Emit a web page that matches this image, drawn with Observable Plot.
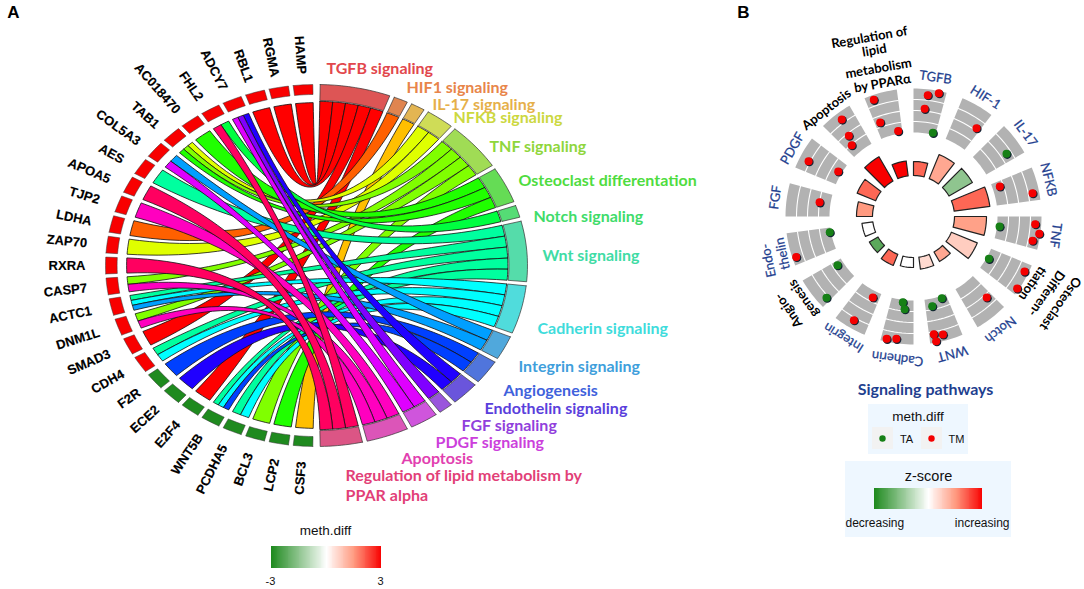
<!DOCTYPE html>
<html>
<head>
<meta charset="utf-8">
<script src="https://cdn.jsdelivr.net/npm/d3@7"></script>
<script src="https://cdn.jsdelivr.net/npm/@observablehq/plot@0.6"></script>
<style>html,body{margin:0;padding:0;background:#fff}svg{display:block}</style>
</head>
<body>
<div id="chart"></div>
<script>
// ---------- DATA: panel A ----------
const pathways = ["TGFB signaling","HIF1 signaling","IL-17 signaling","NFKB signaling","TNF signaling","Osteoclast differentation","Notch signaling","Wnt signaling","Cadherin signaling","Integrin signaling","Angiogenesis","Endothelin signaling","FGF signaling","PDGF signaling","Apoptosis","Regulation of lipid metabolism by PPAR alpha"];
const pathwayColors = ["#ff0000","#ff6000","#ffbf00","#dfff00","#80ff00","#20ff00","#00ff40","#00ff9f","#00ffff","#009fff","#0040ff","#2000ff","#8000ff","#df00ff","#ff00bf","#ff0060"];
const ringColors = ["#dd5555","#e08550","#e3b552","#cfdc57","#a0dc55","#65dc55","#55dc75","#55dcaa","#50dcdc","#50a8dc","#5075dc","#6a55dc","#9a55dc","#cf55dc","#dc55b8","#dc5585"];
const labelColors = ["#e2474d","#e8854a","#e6b04a","#ccd83f","#8fd63c","#4fdc3f","#3fdc6a","#3fdca5","#3fdcdc","#3f9fdc","#3f62dc","#5a3fdc","#913fdc","#cc3fdc","#e23fb0","#e23f78"];
const genes = ["HAMP","RGMA","RBL1","ADCY7","FHL2","AC018470","TAB1","COL5A3","AES","APOA5","TJP2","LDHA","ZAP70","RXRA","CASP7","ACTC1","DNM1L","SMAD3","CDH4","F2R","ECE2","E2F4","WNT5B","PCDHA5","BCL3","LCP2","CSF3"];
const methDiff = [3,3,3,3,3,3,3,3,3,3,3,3,3,3,3,3,3,3,3,-3,-3,-3,-3,-3,-3,-3,-3];
// pathways of each gene, by index into `pathways`, in order away from the top of the circle
const genePathways = [[0],[0],[0],[11,12,13],[6,15],[5],[3,4,5],[9,13],[7],[15],[14],[1],[3],[15],[4,14],[7,8,9],[4,14],[0],[7,8],[10],[11],[0],[7,8,10],[7,8],[4],[5],[2]];

// ---------- DATA: panel B ----------
const shortNames = ["TGFB","HIF-1","IL-17","NFKB","TNF","Osteoclast","Notch","WNT","Cadherin","Integrin","Angiogenesis","Endothelin","FGF","PDGF","Apoptosis","Regulation"];
const zScores = [2,1.3,-1.5,2,1.4,0.75,1.3,0.55,0,2,-2.2,0,1.5,2,3,3];
const barLengths = [14,26,27,36,32,28,11,12,10,12,10,11,16,20,28,15];
const dotPathway = [0,0,0,0,1,2,3,3,4,4,4,4,5,5,5,6,7,7,7,7,7,8,8,8,8,9,9,10,10,11,11,12,13,13,14,14,14,15,15,15];
const dotAngle = [11.6,6.7,5.9,13,13,11,3.3,11.4,6.6,3.6,7.8,11.5,6.8,3.9,12.3,2.9,3.4,10.7,8.5,12.7,12.2,7.1,5.5,8,12.4,4.2,7.4,12.4,2,11.9,3.5,8.6,8.4,5.3,4.1,6.3,8.5,12.3,3,3.7];
const dotLevel = [3.8,3.47,2.2,0.17,2.23,2.56,0.67,3.39,0.24,3.45,3.9,3.41,0.22,3.63,3.84,2.29,0.23,0.69,3.42,3.22,3.88,0.22,0.83,3.59,3.75,0.6,3.24,0.57,3.18,0.11,3.64,1,0.34,3.15,0.94,1.77,3.33,0.25,1.43,3.57];
const dotGroup = ["TM","TM","TM","TA","TM","TA","TM","TM","TA","TM","TM","TM","TA","TM","TM","TM","TA","TA","TM","TM","TM","TA","TA","TM","TM","TM","TM","TA","TA","TA","TM","TM","TM","TM","TM","TM","TM","TM","TM","TM"];
const groupColors = {TA:"#168016",TM:"#f40000"};

// ---------- LAYOUT ----------
const A = {cx:316, cy:265, rx:211, ry:181};
const B = {cx:913, cy:216, bar0:41, trackIn:84, trackStep:11, span:15, step:22.5};
const rad = d => d*Math.PI/180;
const pa = (t,r) => [A.cx+A.rx*r*Math.sin(rad(t)), A.cy-A.ry*r*Math.cos(rad(t))];
const pb = (t,r) => [B.cx+r*Math.sin(rad(t)), B.cy-r*Math.cos(rad(t))];

// pathway arcs from the number of genes on each
const nLinks = pathways.map((_,i)=>genePathways.flat().filter(p=>p===i).length);
const total = d3.sum(nLinks);
const gapP = 1.3, gapG = 1.3;
const unit = (178-gapP*(pathways.length-1))/total;
const pathArcs = []; { let t=1; nLinks.forEach((n,i)=>{pathArcs.push({i,t0:t,t1:t+n*unit}); t+=n*unit+gapP;}); }
const gw = (178-gapG*(genes.length-1))/genes.length;
const geneArcs = genes.map((g,i)=>{const t1=359-i*(gw+gapG); return {i,g,t0:t1-gw,t1};});

const arcPoly = (proj,t0,t1,r0,r1,n=10)=>{
  const f=d3.range(n+1).map(k=>t0+(t1-t0)*k/n);
  return [...f.map(t=>proj(t,r1)),...f.reverse().map(t=>proj(t,r0)),proj(t0,r1)];
};
const toRows=(pts,id,extra)=>pts.map(([x,y])=>({x,y,id,...extra}));

// ribbons
const links=[];
const used=pathways.map(()=>0);
genePathways.forEach((ps,gi)=>{
  const a=geneArcs[gi], w=(a.t1-a.t0)/ps.length;
  ps.forEach((p,k)=>{
    const g1=a.t1-k*w, g0=g1-w;
    const b0=pathArcs[p].t0+used[p]*unit, b1=b0+unit; used[p]++;
    links.push({p,g0,g1,b0,b1,id:`l${gi}-${p}`});
  });
});
links.sort((u,v)=>u.p-v.p);
const R=0.9, Rp=0.907;
const bez=(t0,r0,t1,r1,n=36)=>d3.range(n+1).map(k=>{
  const s=k/n,u=1-s, a=rad(t0),b=rad(t1), c0=u*u*r0,c1=s*s*r1;
  const ux=c0*Math.sin(a)+c1*Math.sin(b), uy=c0*Math.cos(a)+c1*Math.cos(b);
  return [A.cx+A.rx*ux, A.cy-A.ry*uy];
});
const ribbonRows=links.flatMap(l=>{
  const arc=(t0,t1,r)=>d3.range(5).map(k=>pa(t0+(t1-t0)*k/4,r));
  const pts=[...arc(l.b0,l.b1,Rp),...bez(l.b1,Rp,l.g0,R),...arc(l.g0,l.g1,R),...bez(l.g1,R,l.b0,Rp)];
  pts.push(pts[0]);
  return toRows(pts,l.id,{c:pathwayColors[l.p]});
});
const ringRows=pathArcs.flatMap(a=>toRows(arcPoly(pa,a.t0,a.t1,0.912,1),"p"+a.i,{c:ringColors[a.i]}));
const geneRows=geneArcs.flatMap(a=>toRows(arcPoly(pa,a.t0,a.t1,0.945,1,4),"g"+a.i,{v:methDiff[a.i]}));
const geneLabels=geneArcs.map(a=>{
  const t=(a.t0+a.t1)/2, s=Math.sin(rad(t)), c=Math.cos(rad(t));
  return {g:a.g, x:A.cx+A.rx*1.095*s, y:A.cy-A.ry*(c>0?1.06:1.085)*c, rot:Math.atan2(c*A.ry,-s*A.rx)*180/Math.PI};
});
const pathwayLabelText = ["TGFB signaling","HIF1 signaling","IL-17 signaling","NFKB signaling","TNF signaling","Osteoclast differentation","Notch signaling","Wnt signaling","Cadherin signaling","Integrin signaling","Angiogenesis","Endothelin signaling","FGF signaling","PDGF signaling","Apoptosis","Regulation of lipid metabolism by","PPAR alpha"];
const pathwayLabelIdx = [0,1,2,3,4,5,6,7,8,9,10,11,12,13,14,15,15];
const pathwayLabelX = [326,406,432,453,489,518,533,542,537,518,503,484,461,435,401,345,345];
const pathwayLabelY = [68,87,104,117,146,180,216,255,328,366,390,408,425,442,458,475,495];
const pathLabels=pathwayLabelText.map((s,i)=>({s,x:pathwayLabelX[i],y:pathwayLabelY[i],c:labelColors[pathwayLabelIdx[i]]}));

// panel B geometry
const sectorStart=i=>i*B.step;
const sectorRows=shortNames.flatMap((_,i)=>toRows(arcPoly(pb,sectorStart(i),sectorStart(i)+B.span,B.trackIn,B.trackIn+4*B.trackStep),"s"+i,{}));
const gridRows=shortNames.flatMap((_,i)=>[1,2,3].flatMap(k=>d3.range(9).map(j=>{
  const [x,y]=pb(sectorStart(i)+B.span*j/8,B.trackIn+k*B.trackStep);return {x,y,id:`w${i}-${k}`};})));
const barRows=shortNames.flatMap((_,i)=>toRows(arcPoly(pb,sectorStart(i),sectorStart(i)+B.span,B.bar0,B.bar0+barLengths[i],6),"b"+i,{v:zScores[i]}));
const dots=dotPathway.map((p,i)=>{
  const [x,y]=pb(sectorStart(p)+dotAngle[i],B.trackIn+dotLevel[i]*B.trackStep);
  return {x,y,c:groupColors[dotGroup[i]]};
});
const blue="#1f3f8f", black="#000";
const bLabelText=["TGFB","HIF-1","IL-17","NFKB","TNF","tiation","Differen-","Osteoclast","Notch","WNT","Cadherin","Integrin","genesis","Angio-","thelin","Endo-","FGF","PDGF","Apoptosis","Regulation of","lipid","metabolism","by PPARα"];
const bLabelX=[935,985,1025,1048,1055,1032,1046,1060,1000,952,897,843,803,788,782,768,775,792,826,869,874,878,882];
const bLabelY=[77,97,133,179,235,283,293,303,329,353,358,337,298,310,253,260,197,148,109,37,50,68,83];
const bLabelRot=[8,32,53,76,98,125,125,125,142,165,187,212,235,235,258,258,278,300,-38,-10,-10,-10,-10];
const bLabelBlack=[0,0,0,0,0,1,1,1,0,0,0,0,1,1,0,0,0,0,1,1,1,1,1];
const bLabels=bLabelText.map((s,i)=>({s,x:bLabelX[i],y:bLabelY[i],rot:bLabelRot[i],c:bLabelBlack[i]?black:blue}));

const rampStops=d3.range(-3,3,0.05);
const rampMarks=(x0,x1,y0,y1)=>{
  const k=(x1-x0)/6;
  return Plot.rect(rampStops,{x1:d=>x0+(d+3)*k,x2:d=>x0+(d+3.06)*k,y1:y0,y2:y1,fill:d=>d,shapeRendering:"crispEdges"});
};
const T=(s,x,y,o={})=>Plot.text([s],{x:()=>x,y:()=>y,text:d=>d,fontFamily:"Liberation Sans, Arial, sans-serif",fontSize:12,fill:"#111",...o});

const plot=Plot.plot({
  width:1084,height:589,margin:0,
  x:{domain:[0,1084],range:[0,1084],axis:null},
  y:{domain:[0,589],range:[0,589],axis:null},
  color:{type:"linear",domain:[-3,0,1.5,3],range:["#1f8a1f","#ffffff","#ff9a80","#f80000"],clamp:true},
  style:{background:"#fff"},
  marks:[
    // panel A
    Plot.line(ribbonRows,{x:"x",y:"y",z:"id",curve:"linear",fill:{value:"c",scale:null},stroke:"#111",strokeWidth:0.8}),
    Plot.line(ringRows,{x:"x",y:"y",z:"id",curve:"linear",fill:{value:"c",scale:null},stroke:"#333",strokeWidth:0.7}),
    Plot.line(geneRows,{x:"x",y:"y",z:"id",curve:"linear",fill:"v",stroke:"#333",strokeWidth:0.5}),
    Plot.text(geneLabels,{x:"x",y:"y",text:"g",rotate:"rot",textAnchor:"end",fontFamily:"Liberation Sans, Arial, sans-serif",fontSize:13,fontWeight:600,fill:"#000",stroke:"#000",strokeWidth:0.15}),
    Plot.text(pathLabels,{x:"x",y:"y",text:"s",textAnchor:"start",fontFamily:"Lato, sans-serif",fontWeight:700,fontSize:16,fill:{value:"c",scale:null}}),
    T("A",13,12,{fontWeight:700,fontSize:17,fill:"#000"}),
    T("meth.diff",325,530,{fontSize:13.5}),
    rampMarks(271,381,546,568),
    T("-3",270,581,{fontSize:11}),
    T("3",380,581,{fontSize:11}),
    // panel B
    T("B",743,12,{fontWeight:700,fontSize:17,fill:"#000"}),
    Plot.line(sectorRows,{x:"x",y:"y",z:"id",curve:"linear",fill:"#b2b2b2",stroke:"none"}),
    Plot.line(gridRows,{x:"x",y:"y",z:"id",curve:"linear",stroke:"#fff",strokeWidth:1.1}),
    Plot.line(barRows,{x:"x",y:"y",z:"id",curve:"linear",fill:"v",stroke:"#222",strokeWidth:1.2}),
    Plot.dot(dots,{x:"x",y:"y",r:4.3,fill:"#123",dx:0.8,dy:0.8}),
    Plot.dot(dots,{x:"x",y:"y",r:4,fill:{value:"c",scale:null}}),
    Plot.text(bLabels.filter(d=>d.c===blue),{x:"x",y:"y",text:"s",rotate:"rot",fontFamily:"Lato, sans-serif",fontSize:13,fontWeight:400,fill:blue,stroke:blue,strokeWidth:0.25}),
    Plot.text(bLabels.filter(d=>d.c===black),{x:"x",y:"y",text:"s",rotate:"rot",fontFamily:"Lato, sans-serif",fontSize:13,fontWeight:700,fill:black}),
    T("Signaling pathways",925,389,{fontFamily:"Lato, sans-serif",fontWeight:700,fontSize:16,fill:blue}),
    Plot.rect([0],{x1:()=>868,x2:()=>968,y1:()=>404,y2:()=>454,fill:"#eef7ff"}),
    T("meth.diff",917.5,416,{fontSize:13.5}),
    Plot.rect([0],{x1:()=>872,x2:()=>893,y1:()=>427,y2:()=>449,fill:"#f2f2f2"}),
    Plot.rect([0],{x1:()=>921,x2:()=>942,y1:()=>427,y2:()=>449,fill:"#f2f2f2"}),
    Plot.dot([0],{x:()=>882,y:()=>438,r:3.2,fill:groupColors.TA}),
    Plot.dot([0],{x:()=>931,y:()=>438,r:3.2,fill:groupColors.TM}),
    T("TA",906,439,{fontSize:11}),
    T("TM",956,439,{fontSize:11}),
    Plot.rect([0],{x1:()=>845,x2:()=>1011,y1:()=>461,y2:()=>537,fill:"#eef7ff"}),
    T("z-score",928,476,{fontSize:14.5}),
    rampMarks(874,982,488,509),
    T("decreasing",845,523,{fontSize:12,textAnchor:"start"}),
    T("increasing",1009,523,{fontSize:12,textAnchor:"end"})
  ]
});
document.getElementById("chart").appendChild(plot);
</script>
</body>
</html>
